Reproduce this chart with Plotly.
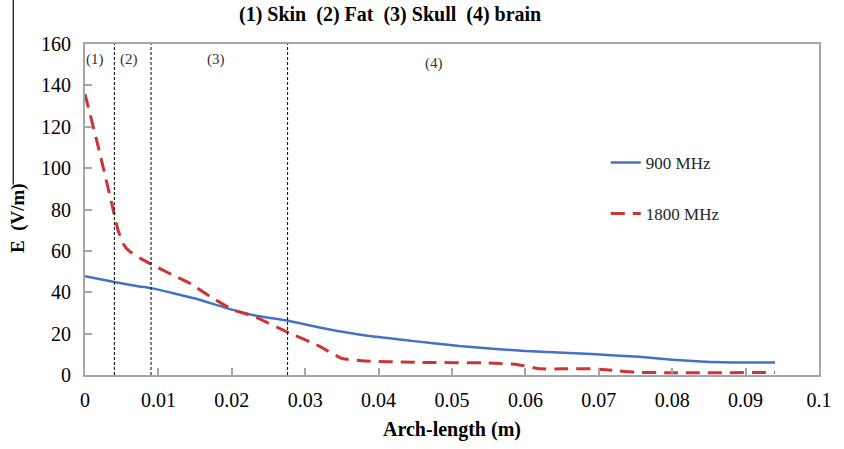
import plotly.graph_objects as go

# ---- data ----
x_900 = [0, 0.004, 0.0074, 0.009, 0.015, 0.02, 0.023, 0.0275, 0.033, 0.038, 0.0445, 0.051,
         0.06, 0.069, 0.0755, 0.08, 0.0845, 0.088, 0.094]
e_900 = [47.8, 45, 42.8, 42, 37, 31.6, 28.9, 26.3, 22.2, 19.2, 16.5, 14,
         11.6, 10.1, 8.8, 7.4, 6.4, 6.1, 6.0]

x_1800 = [0, 0.002, 0.0039, 0.0045, 0.0052, 0.006, 0.0075, 0.009, 0.0118, 0.0141, 0.0172,
          0.0203, 0.023, 0.0274, 0.0319, 0.035, 0.0377, 0.045, 0.055, 0.059,
          0.062, 0.065, 0.069, 0.072, 0.075, 0.08, 0.094]
e_1800 = [135.8, 107.5, 79, 70, 63.5, 60, 56.5, 53.6, 48.6, 44.7, 37.6,
          31.3, 28.4, 21, 14, 8, 6.9, 6.1, 5.8, 5.0,
          3.0, 3.0, 3.0, 2.2, 1.3, 1.1, 1.2]

boundaries = [0.004, 0.009, 0.0276]
region_labels = ["(1)", "(2)", "(3)", "(4)"]
region_label_x = [0.00134, 0.00596, 0.0178, 0.0475]
region_label_y = [152.4, 152.4, 152.4, 150.5]

x_ticks = [0, 0.01, 0.02, 0.03, 0.04, 0.05, 0.06, 0.07, 0.08, 0.09, 0.1]
x_tick_text = ["0", "0.01", "0.02", "0.03", "0.04", "0.05", "0.06", "0.07", "0.08", "0.09", "0.1"]
y_ticks = [0, 20, 40, 60, 80, 100, 120, 140, 160]

SERIF = "Liberation Serif"
AX = "#a6a6a6"

fig = go.Figure()
fig.add_trace(go.Scatter(
    x=x_900, y=e_900, mode="lines", name="900 MHz", legendgroup="a",
    line=dict(color="#4472c4", width=2.5, shape="spline", smoothing=0.5)))
fig.add_trace(go.Scatter(
    x=x_1800, y=e_1800, mode="lines", name="1800 MHz", legendgroup="b",
    line=dict(color="#cc3535", width=3, dash="14px,8px", shape="spline", smoothing=0.5)))

for b in boundaries:
    fig.add_shape(type="line", x0=b, x1=b, y0=0, y1=160, xref="x", yref="y",
                  line=dict(color="black", width=1, dash="3px,2px"))

for t, xx, yy in zip(region_labels, region_label_x, region_label_y):
    fig.add_annotation(x=xx, y=yy, text=t, showarrow=False, xref="x", yref="y",
                       xanchor="center", yanchor="middle",
                       font=dict(family=SERIF, size=15, color="#333333"))

# title
fig.add_annotation(x=0.415, y=1.088, xref="paper", yref="paper", showarrow=False,
                   xanchor="center", yanchor="middle",
                   text="<b>(1) Skin  (2) Fat  (3) Skull  (4) brain</b>",
                   font=dict(family=SERIF, size=20, color="black"))
# y axis title
fig.add_annotation(x=-0.091, y=0.475, xref="paper", yref="paper", showarrow=False,
                   xanchor="center", yanchor="middle",
                   text="<b>E  (V/m)</b>", textangle=-90,
                   font=dict(family=SERIF, size=19, color="black"))
# stray left border line of the source image
fig.add_shape(type="line", xref="paper", yref="paper", x0=-0.0977, x1=-0.0977,
              y0=0.575, y1=1.14, line=dict(color="#333333", width=1.5))

fig.update_layout(
    width=844, height=449, autosize=False,
    margin=dict(l=85, r=12, t=44, b=66),
    paper_bgcolor="white", plot_bgcolor="white",
    showlegend=True,
    legend=dict(x=0.7095, y=0.695, xanchor="left", yanchor="top",
                font=dict(family=SERIF, size=17, color="#262626"),
                tracegroupgap=26, itemwidth=30, bgcolor="rgba(0,0,0,0)"),
    xaxis=dict(range=[0, 0.1], tickvals=x_ticks, ticktext=x_tick_text,
               showline=True, linecolor=AX, linewidth=2, mirror=True,
               ticks="inside", ticklen=7, tickcolor=AX, tickwidth=1.5,
               ticklabelstandoff=6,
               showgrid=False, zeroline=False,
               tickfont=dict(family=SERIF, size=20, color="black"),
               title=dict(text="<b>Arch-length (m)</b>", standoff=12,
                          font=dict(family=SERIF, size=20, color="black"))),
    yaxis=dict(range=[0, 160], tickvals=y_ticks,
               showline=True, linecolor=AX, linewidth=2, mirror=True,
               ticks="inside", ticklen=7, tickcolor=AX, tickwidth=1.5,
               ticklabelstandoff=8,
               showgrid=False, zeroline=False,
               tickfont=dict(family=SERIF, size=20, color="black")),
)

fig.write_html("out.html", config={"responsive": False})
